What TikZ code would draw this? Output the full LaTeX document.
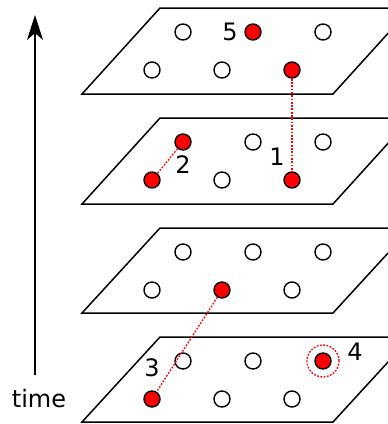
\documentclass[tikz,border=0pt]{standalone}
\usepackage{fontspec}
\setmainfont{DejaVu Sans}
\usetikzlibrary{arrows.meta}
\begin{document}
\begin{tikzpicture}[x=1pt,y=-1pt,
  plane/.style={draw=black,line width=1.5pt,line join=miter},
  dot/.style={circle,draw=black,line width=1.4pt,fill=white,minimum size=16pt,inner sep=0pt},
  rdot/.style={dot,fill=red},
  link/.style={draw=red,line width=1.3pt,dash pattern=on 1.8pt off 1.5pt},
  ring/.style={circle,draw=red,line width=1.3pt,dash pattern=on 1.8pt off 1.5pt,minimum size=32pt,inner sep=0pt},
  lab/.style={font=\fontsize{24}{28}\selectfont,inner sep=0pt}]
\useasboundingbox (0,0) rectangle (388,424);
\clip (0,0) rectangle (388,424);
% planes
\foreach \t/\b in {8/94,118/204,228/313,337/422}{
  \draw[plane] (82,\b) -- (160,\t) -- (411,\t) -- (333,\b) -- cycle;
}
% plane 1 (top)
\node[dot]  (a1) at (183,32) {};
\node[rdot] (a2) at (253,32) {};
\node[dot]  (a3) at (323,32) {};
\node[dot]  (a4) at (152,70) {};
\node[dot]  (a5) at (222,70) {};
\node[rdot] (a6) at (292,70) {};
% plane 2
\node[rdot] (b1) at (183,142) {};
\node[dot]  (b2) at (253,142) {};
\node[dot]  (b3) at (323,142) {};
\node[rdot] (b4) at (152,180) {};
\node[dot]  (b5) at (222,180) {};
\node[rdot] (b6) at (292,180) {};
% plane 3
\node[dot]  (c1) at (183,252) {};
\node[dot]  (c2) at (253,252) {};
\node[dot]  (c3) at (323,252) {};
\node[dot]  (c4) at (152,290) {};
\node[rdot] (c5) at (222,290) {};
\node[dot]  (c6) at (292,290) {};
% plane 4 (bottom)
\node[dot]  (d1) at (183,361) {};
\node[dot]  (d2) at (253,361) {};
\node[rdot] (d3) at (323,361) {};
\node[rdot] (d4) at (152,399) {};
\node[dot]  (d5) at (222,399) {};
\node[dot]  (d6) at (292,399) {};
\node[ring] (r4) at (d3) {};
% links
\draw[link] (a6) -- (b6);
\draw[link] (b1) -- (b4);
\draw[link] (c5) -- (d4);
% labels
\node[lab] (l1) at (277,157) {1};
\node[lab] (l2) at (183,165) {2};
\node[lab] (l3) at (152,368) {3};
\node[lab] (l4) at (355,352) {4};
\node[lab] (l5) at (230,32) {5};
% time axis
\node[lab] (tm) at (39,399) {time};
\coordinate (ttop) at (35,15);
\draw[line width=1.5pt,-{Stealth[length=25pt,width=16pt,inset=7pt]}] (35,375) -- (ttop);
\end{tikzpicture}
\end{document}
